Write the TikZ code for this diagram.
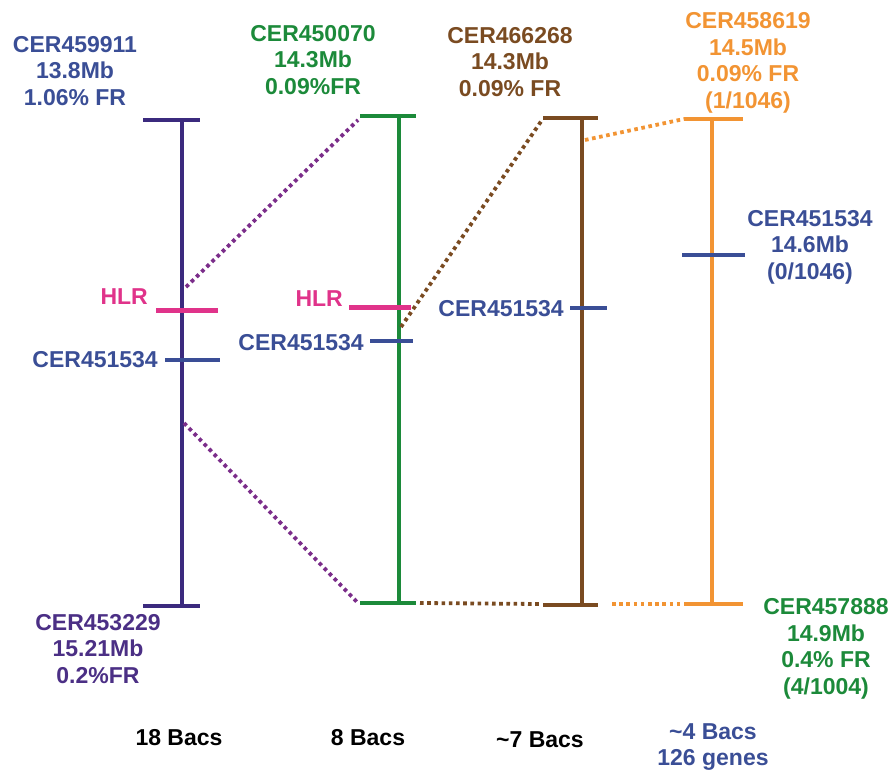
\documentclass[tikz,border=0pt]{standalone}
\usepackage{fontspec}
\setmainfont{Liberation Sans}
\definecolor{cindigo}{HTML}{3B2A7E}
\definecolor{cpurp}{HTML}{4B2F85}
\definecolor{cmag}{HTML}{7B2D8A}
\definecolor{cblue}{HTML}{3A4E96}
\definecolor{cgreen}{HTML}{1C8A3A}
\definecolor{cbrown}{HTML}{7A4B21}
\definecolor{corange}{HTML}{F29433}
\definecolor{cpink}{HTML}{E0338A}
\tikzset{
  lbl/.style={font=\bfseries\fontsize{23}{26.5}\selectfont, align=center, inner sep=0pt},
  bar/.style={line width=3.2pt},
  hlr/.style={line width=5pt, cpink},
  tick/.style={line width=3.2pt, cblue},
  dots/.style={line width=3.8pt, dash pattern=on 3.6pt off 3.6pt},
}
\begin{document}
\begin{tikzpicture}[x=1pt,y=-1pt]
\useasboundingbox (0,0) rectangle (894,771);
% bar 1
\coordinate (b1t) at (182,120); \coordinate (b1b) at (182,606);
\draw[bar,cindigo] (b1t) -- (b1b);
\draw[bar,cindigo] (143,120) -- (200,120);
\draw[bar,cindigo] (143,606) -- (200,606);
\draw[hlr] (156,310) -- (218,310);
\draw[tick] (165,360) -- (220,360);
% bar 2
\coordinate (b2t) at (399,116); \coordinate (b2b) at (399,603);
\draw[bar,cgreen] (b2t) -- (b2b);
\draw[bar,cgreen] (360,116) -- (416,116);
\draw[bar,cgreen] (360,603) -- (416,603);
\draw[hlr] (349,307) -- (411,307);
\draw[tick] (370,341) -- (413,341);
% bar 3
\coordinate (b3t) at (582,118); \coordinate (b3b) at (582,605);
\draw[bar,cbrown] (b3t) -- (b3b);
\draw[bar,cbrown] (543,118) -- (598,118);
\draw[bar,cbrown] (543,605) -- (598,605);
\draw[tick] (570,308) -- (607,308);
% bar 4
\coordinate (b4t) at (712,119); \coordinate (b4b) at (712,604);
\draw[bar,corange] (b4t) -- (b4b);
\draw[bar,corange] (684,119) -- (743,119);
\draw[bar,corange] (684,604) -- (743,604);
\draw[tick] (682,255) -- (745,255);
% dotted connectors
\coordinate (p1a) at (186,287); \coordinate (p1b) at (358,120);
\coordinate (p2a) at (184,423); \coordinate (p2b) at (357,602);
\coordinate (q1a) at (401,327); \coordinate (q1b) at (542,120);
\coordinate (q2a) at (420,603); \coordinate (q2b) at (541,604);
\coordinate (r1a) at (585,140); \coordinate (r1b) at (684,119);
\coordinate (r2a) at (612,604); \coordinate (r2b) at (681,604);
\draw[dots,cmag] (p1a) -- (p1b);
\draw[dots,cmag] (p2a) -- (p2b);
\draw[dots,cbrown] (q1a) -- (q1b);
\draw[dots,cbrown] (q2a) -- (q2b);
\draw[dots,corange] (r1a) -- (r1b);
\draw[dots,corange] (r2a) -- (r2b);
% labels
\node[lbl,cblue] (t1) at (75,71) {CER459911\\13.8Mb\\1.06\% FR};
\node[lbl,cgreen] (t2) at (313,60) {CER450070\\14.3Mb\\0.09\%FR};
\node[lbl,cbrown] (t3) at (510,62) {CER466268\\14.3Mb\\0.09\% FR};
\node[lbl,corange] (t4) at (748,63) {CER458619\\14.5Mb\\0.09\% FR\\(1/1046)};
\node[lbl,cblue] (t5) at (810,247) {CER451534\\14.6Mb\\(0/1046)};
\node[lbl,cpurp] (t6) at (98,649) {CER453229\\15.21Mb\\0.2\%FR};
\node[lbl,cgreen] (t7) at (826,649) {CER457888\\14.9Mb\\0.4\% FR\\(4/1004)};
\node[lbl,cpink,anchor=east] (h1) at (148,297) {HLR};
\node[lbl,cpink,anchor=east] (h2) at (343,299) {HLR};
\node[lbl,cblue,anchor=east] (m1) at (158,360) {CER451534};
\node[lbl,cblue,anchor=east] (m2) at (364,343) {CER451534};
\node[lbl,cblue,anchor=east] (m3) at (564,309) {CER451534};
\node[lbl,black] (f1) at (179,738) {18 Bacs};
\node[lbl,black] (f2) at (368,738) {8 Bacs};
\node[lbl,black] (f3) at (540,740) {\textasciitilde 7 Bacs};
\node[lbl,cblue] (f4) at (713,747) {\textasciitilde 4 Bacs\\126 genes};
\end{tikzpicture}
\end{document}
